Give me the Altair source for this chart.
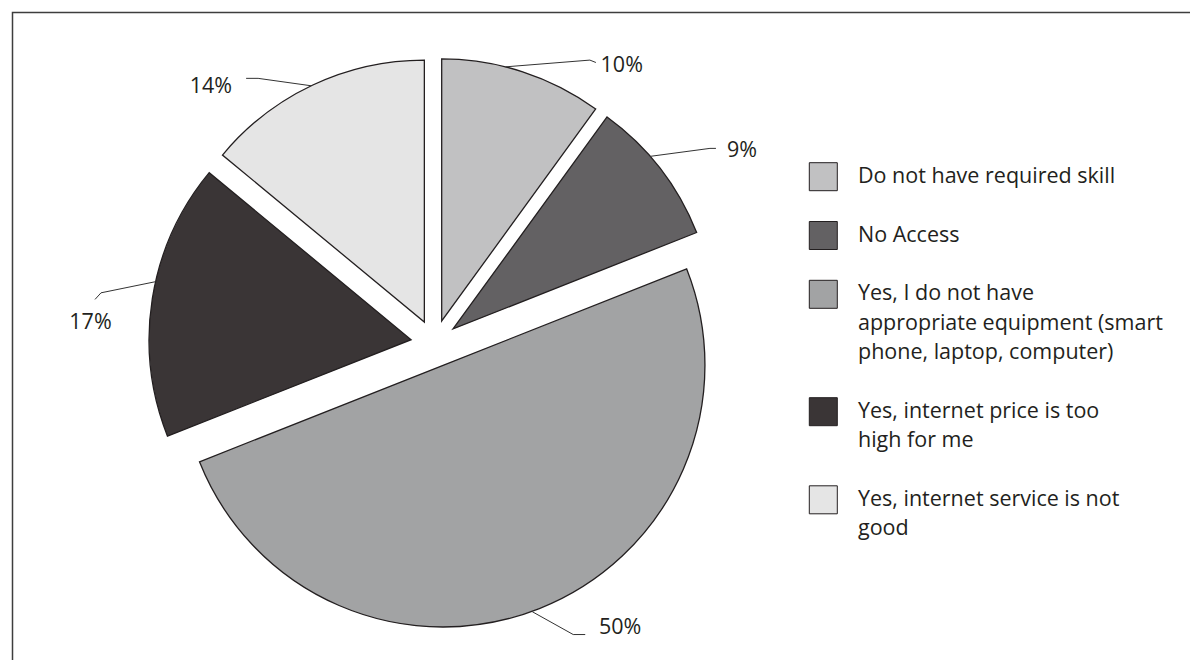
import altair as alt
import numpy as np
import pandas as pd

# ---------------- data ----------------
categories = [
    "Do not have required skill",
    "No Access",
    "Yes, I do not have appropriate equipment (smart phone, laptop, computer)",
    "Yes, internet price is too high for me",
    "Yes, internet service is not good",
]
values = [10, 9, 50, 17, 14]
pct_labels = ["10%", "9%", "50%", "17%", "14%"]
legend_lines = [
    ["Do not have required skill"],
    ["No Access"],
    ["Yes, I do not have", "appropriate equipment (smart", "phone, laptop, computer)"],
    ["Yes, internet price is too", "high for me"],
    ["Yes, internet service is not", "good"],
]
colors = ["#c1c1c2", "#636163", "#a2a3a4", "#3a3536", "#e5e5e5"]

# ---------------- layout ----------------
W, H = 1182, 652
CX, CY = 426.4, 335.4
R = 262
EXPLODE = 23.6
FONT = "Open Sans"
FS = 21.5
INK = "#231f20"

# label leader layout per slice: anchor angle on arc, elbow (angle, radius),
# tail offset from elbow, text offset from elbow, text align
lab_anchor_deg = [14.1, 48.8, 160.1, 282.8, 334.4]
lab_elbow_deg = [29.6, 54.9, 154.2, 278.6, 325.7]
lab_elbow_r = [300, 314, 299, 313.6, 295]
lab_tail = [(6, 2.4), (6, 0), (12, 0), (-6, 6.6), (-12, 0)]
lab_text = [(10.7, 5.4), (17, 3), (25.7, -7), (-10.5, 30), (-26, 9)]
lab_align = ["left", "left", "left", "center", "right"]

# ---------------- tables ----------------
vals = np.array(values, dtype=float)
cum = np.cumsum(vals)
start = cum - vals
mid = (start + cum) / 2 / vals.sum() * 2 * np.pi
apex_x = CX + EXPLODE * np.sin(mid)
apex_y = CY - EXPLODE * np.cos(mid)

slices = pd.DataFrame({
    "category": categories,
    "start": start,
    "end": cum,
    "cx": apex_x,
    "cy": apex_y,
})

line_rows, text_rows = [], []
for i in range(len(values)):
    a = np.radians(lab_anchor_deg[i])
    b = np.radians(lab_elbow_deg[i])
    p0 = (apex_x[i] + R * np.sin(a), apex_y[i] - R * np.cos(a))
    p1 = (apex_x[i] + lab_elbow_r[i] * np.sin(b), apex_y[i] - lab_elbow_r[i] * np.cos(b))
    p2 = (p1[0] + lab_tail[i][0], p1[1] + lab_tail[i][1])
    for k, p in enumerate([p0, p1, p2]):
        line_rows.append({"slice": i, "ord": k, "x": p[0], "y": p[1]})
    text_rows.append({"x": p1[0] + lab_text[i][0], "y": p1[1] + lab_text[i][1],
                      "text": pct_labels[i], "align": lab_align[i]})
leaders = pd.DataFrame(line_rows)
ptext = pd.DataFrame(text_rows)

LEG_Y0, LEG_LH, LEG_GAP = 168.7, 29.3, 29.5
LEG_SQ_X, LEG_TX_X = 815.3, 850
sq_rows, lt_rows = [], []
gline = 0
for i, lines in enumerate(legend_lines):
    sq_rows.append({"category": categories[i], "y": LEG_Y0 + gline * LEG_LH + i * LEG_GAP})
    for ln in lines:
        lt_rows.append({"text": ln, "y": LEG_Y0 + gline * LEG_LH + i * LEG_GAP})
        gline += 1
leg_sq = pd.DataFrame(sq_rows)
leg_tx = pd.DataFrame(lt_rows)

color_scale = alt.Scale(domain=categories, range=colors)

# ---------------- layers ----------------
frame = alt.Chart(pd.DataFrame({"a": [0]})).mark_rect(
    fillOpacity=0, stroke="#3d3d3d", strokeWidth=1.5, clip=True
).encode(x=alt.value(4.5), x2=alt.value(W + 50), y=alt.value(4.5), y2=alt.value(H + 50))

arcs = alt.Chart(slices).mark_arc(radius=R, stroke=INK, strokeWidth=1.3).encode(
    theta=alt.Theta("start:Q", stack=None,
                    scale=alt.Scale(domain=[0, 100], range=[0, 2 * np.pi])),
    theta2="end:Q",
    x=alt.X("cx:Q", scale=None),
    y=alt.Y("cy:Q", scale=None),
    color=alt.Color("category:N", scale=color_scale, legend=None),
)

leader = alt.Chart(leaders).mark_line(stroke="#333333", strokeWidth=1).encode(
    x=alt.X("x:Q", scale=None),
    y=alt.Y("y:Q", scale=None),
    detail="slice:N",
    order="ord:Q",
)

def label_layer(al):
    return alt.Chart(ptext).transform_filter(alt.datum.align == al).mark_text(
        align=al, baseline="middle", font=FONT, fontSize=FS, color=INK
    ).encode(x=alt.X("x:Q", scale=None), y=alt.Y("y:Q", scale=None), text="text:N")

squares = alt.Chart(leg_sq).mark_square(
    size=784, opacity=1, stroke=INK, strokeWidth=1, filled=True
).encode(
    x=alt.value(LEG_SQ_X),
    y=alt.Y("y:Q", scale=None),
    fill=alt.Fill("category:N", scale=color_scale, legend=None),
)

leg_text = alt.Chart(leg_tx).mark_text(
    align="left", baseline="middle", font=FONT, fontSize=FS, color=INK
).encode(x=alt.value(LEG_TX_X), y=alt.Y("y:Q", scale=None), text="text:N")

chart = alt.layer(
    frame, arcs, leader, label_layer("left"), label_layer("center"), label_layer("right"),
    squares, leg_text,
).properties(
    width=W, height=H, padding=0, autosize=alt.AutoSizeParams(type="none")
).configure_view(stroke=None)

chart.save("out.html", embed_options={"renderer": "svg", "actions": False})
